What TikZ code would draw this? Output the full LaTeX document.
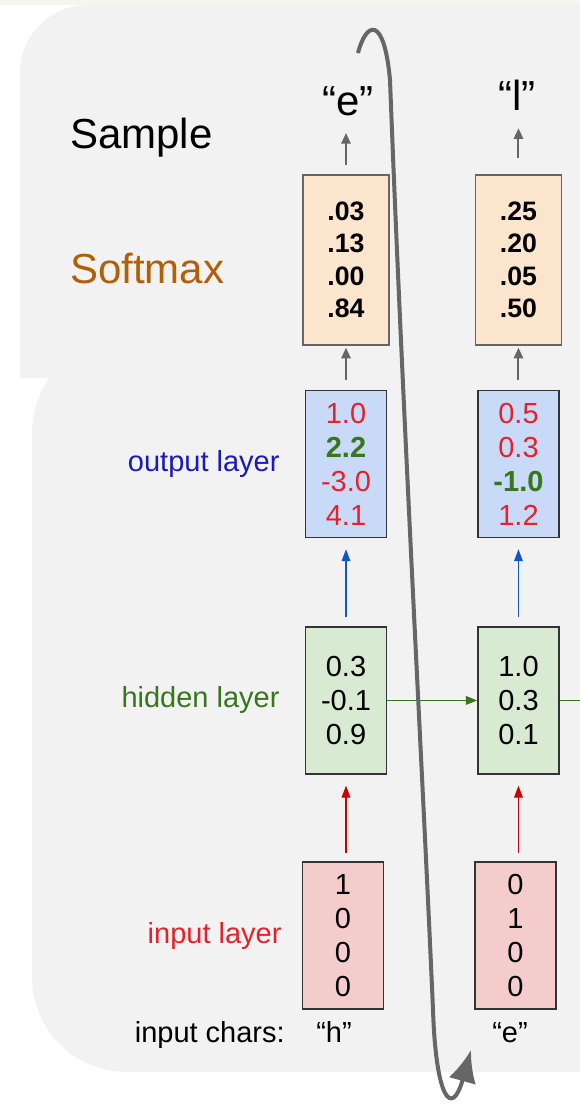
\documentclass[tikz,border=0pt]{standalone}
\usepackage{fontspec}
\setmainfont{Liberation Sans}
\usepackage{xcolor}
\usetikzlibrary{positioning,arrows.meta}
\definecolor{panelbg}{HTML}{F2F2F2}
\definecolor{stripbg}{HTML}{F6F6EE}
\definecolor{smxfill}{HTML}{FCE5CD}
\definecolor{outfill}{HTML}{C9DAF8}
\definecolor{hidfill}{HTML}{D9EAD3}
\definecolor{inpfill}{HTML}{F4CCCC}
\definecolor{numred}{HTML}{E3222B}
\definecolor{numgreen}{HTML}{38761D}
\definecolor{outblue}{HTML}{1A1AB8}
\definecolor{arrblue}{HTML}{1155CC}
\definecolor{arrred}{HTML}{CC0000}
\definecolor{smxorange}{HTML}{B45F06}
\definecolor{loopgray}{HTML}{666666}
\tikzset{
  vec/.style={draw=black!80, line width=1.1pt, align=center, inner sep=0pt,
    minimum width=60.75pt, minimum height=110.25pt, font=\fontsize{21.75}{25.5}\selectfont},
  smxvec/.style={vec, draw=loopgray, fill=smxfill, minimum width=64.5pt,
    minimum height=127.5pt, font=\fontsize{20}{24.4}\selectfont\bfseries},
  outvec/.style={vec, fill=outfill},
  hidvec/.style={vec, fill=hidfill},
  inpvec/.style={vec, fill=inpfill},
  rowlabel/.style={inner sep=0pt, font=\fontsize{21.75}{26}\selectfont},
  biglabel/.style={inner sep=0pt, font=\fontsize{31.5}{36}\selectfont},
  grayline/.style={-{Triangle[length=8pt,width=7pt]}, draw=loopgray, line width=1.5pt},
  blueline/.style={-{Triangle[length=9pt,width=6.5pt]}, draw=arrblue, line width=1pt},
  redline/.style={-{Triangle[length=9pt,width=6.5pt]}, draw=arrred, line width=1pt},
  greenline/.style={-{Triangle[length=8.5pt,width=6.5pt]}, draw=numgreen, line width=1pt},
  looparrow/.style={-{Latex[length=24pt,width=21pt]}, draw=loopgray, line width=3pt}
}
\newcommand{\rd}[1]{\textcolor{numred}{#1}}
\newcommand{\gn}[1]{\textcolor{numgreen}{\bfseries #1}}

\begin{document}
\begin{tikzpicture}[x=0.75pt, y=-0.75pt]
  \useasboundingbox (0,0) rectangle (580,1107);
  % panels
  \fill[white] (0,0) rectangle (580,1107);
  \fill[stripbg] (0,0) rectangle (580,5);
  \fill[panelbg] (700,338) -- (127,338) arc[start angle=270, end angle=180, radius=95]
    -- (32,977) arc[start angle=180, end angle=90, radius=95] -- (700,1072) -- cycle;
  \fill[panelbg] (20,378) -- (20,73) arc[start angle=180, end angle=270, radius=68]
    -- (700,5) -- (700,378) -- cycle;

  % first step
  \node[smxvec] (smx1) at (346,260) {.03\\.13\\.00\\.84};
  \node[outvec, below=33pt of smx1] (out1) {\rd{1.0}\\\gn{2.2}\\\rd{-3.0}\\\rd{4.1}};
  \node[hidvec, below=66pt of out1] (hid1) {0.3\\-0.1\\0.9};
  \node[inpvec, below=65pt of hid1, xshift=-2.25pt] (inp1) {1\\0\\0\\0};

  % second step
  \node[smxvec, right=63.75pt of smx1] (smx2) {.25\\.20\\.05\\.50};
  \node[outvec, below=33pt of smx2] (out2) {\rd{0.5}\\\rd{0.3}\\\gn{-1.0}\\\rd{1.2}};
  \node[hidvec, below=66pt of out2] (hid2) {1.0\\0.3\\0.1};
  \node[inpvec, below=65pt of hid2, xshift=-2.25pt] (inp2) {0\\1\\0\\0};

  % labels
  \node[biglabel, anchor=base west] (smplbl) at (70,148) {Sample};
  \node[biglabel, anchor=base west, text=smxorange] (smxlbl) at (70,283) {Softmax};
  \node[rowlabel, text=outblue, left=18.75pt of out1] (outlbl) {output layer};
  \node[rowlabel, text=numgreen, left=18.75pt of hid1] (hidlbl) {hidden layer};
  \node[rowlabel, text=numred, left=15pt of inp1] (inplbl) {input layer};
  \node[rowlabel, anchor=base east] (chrlbl) at (285,1042) {input chars:};
  \node[rowlabel, anchor=base] (chr1) at (334,1042) {“h”};
  \node[rowlabel, anchor=base] (chr2) at (510,1042) {“e”};
  \node[biglabel, anchor=base] (smp1) at (348,115) {“e”};
  \node[biglabel, anchor=base] (smp2) at (517,110) {“l”};

  % connectors
  \draw[grayline, shorten <=6.75pt, shorten >=13pt] (smx1.north) -- (smx1.north |- smp1.south);
  \draw[grayline, shorten <=12pt, shorten >=13.5pt] (smx2.north) -- (smx2.north |- smp2.south);
  \draw[grayline, shorten <=7.5pt, shorten >=1.5pt] (out1) -- (smx1);
  \draw[grayline, shorten <=7.5pt, shorten >=1.5pt] (out2) -- (smx2);
  \draw[blueline, shorten <=6.75pt, shorten >=8.25pt] (hid1) -- (out1);
  \draw[blueline, shorten <=6.75pt, shorten >=8.25pt] (hid2) -- (out2);
  \draw[redline, shorten <=6pt, shorten >=8.25pt] (inp1.north -| hid1) -- (hid1);
  \draw[redline, shorten <=6pt, shorten >=8.25pt] (inp2.north -| hid2) -- (hid2);
  \draw[greenline] (hid1) -- (hid2);
  \coordinate[right=60pt of hid2.east] (hidnext);
  \draw[numgreen, line width=1pt] (hid2.east) -- (hidnext);

  % feeding the sample back in
  \draw[looparrow] (358,53) .. controls (366,22) and (384,14) .. (390,80)
    .. controls (403,420) and (424,800) .. (433,1010)
    .. controls (436,1100) and (452,1118) .. (471,1050);
\end{tikzpicture}
\end{document}
